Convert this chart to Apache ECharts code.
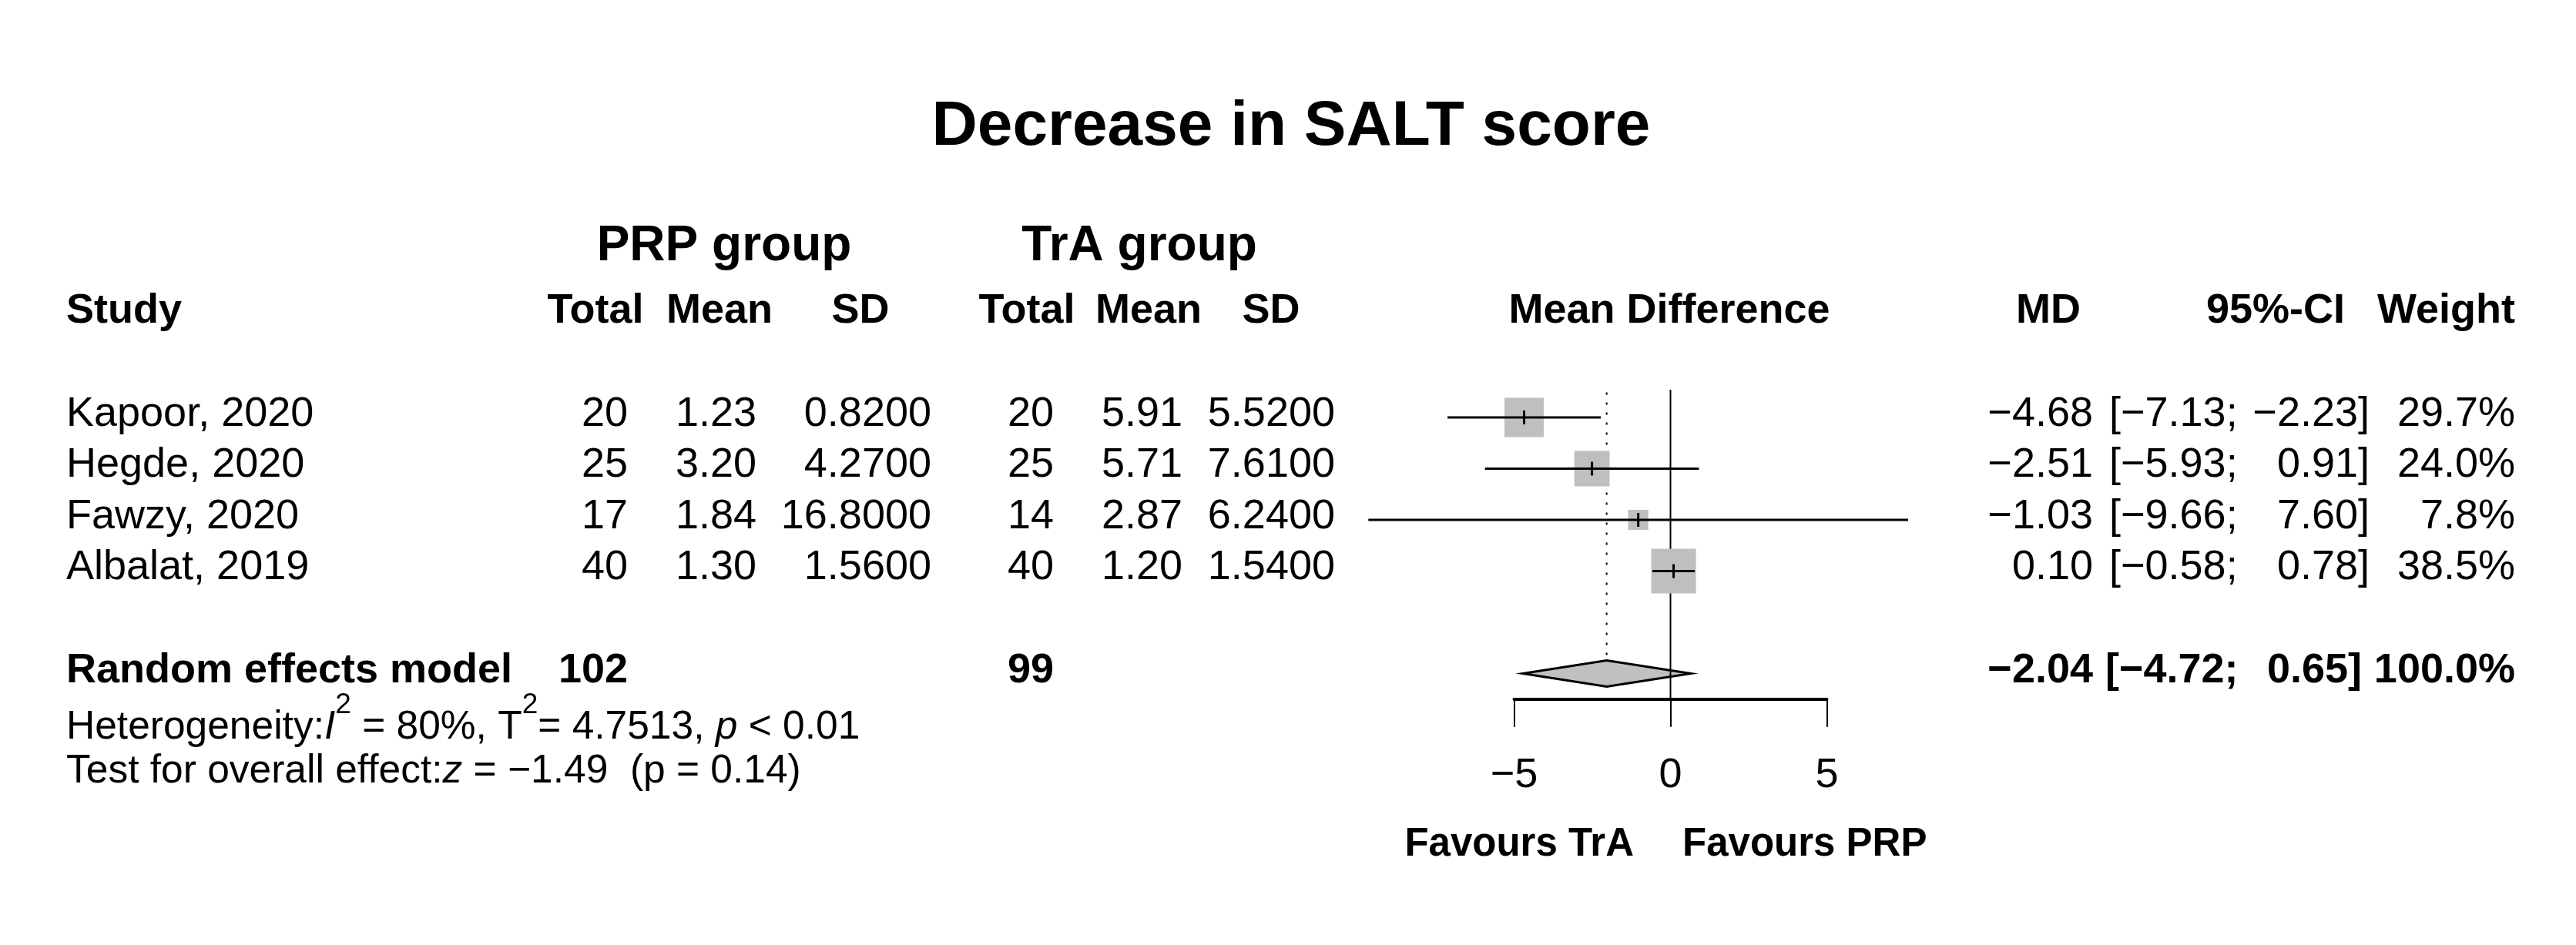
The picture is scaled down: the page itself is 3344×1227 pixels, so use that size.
<!DOCTYPE html>
<html><head><meta charset="utf-8">
<script src="https://cdn.jsdelivr.net/npm/echarts@6/dist/echarts.min.js"></script>
<style>html,body{margin:0;padding:0;background:#fff}#c{width:3344px;height:1227px}</style>
</head><body><div id="c"></div>
<script>
// ---- data ----
const studies = ['Kapoor, 2020', 'Hegde, 2020', 'Fawzy, 2020', 'Albalat, 2019'];
const prpTotal = [20, 25, 17, 40];
const prpMean = [1.23, 3.20, 1.84, 1.30];
const prpSD = [0.82, 4.27, 16.8, 1.56];
const traTotal = [20, 25, 14, 40];
const traMean = [5.91, 5.71, 2.87, 1.20];
const traSD = [5.52, 7.61, 6.24, 1.54];
const md = [-4.68, -2.51, -1.03, 0.10];
const ciLow = [-7.13, -5.93, -9.66, -0.58];
const ciHigh = [-2.23, 0.91, 7.60, 0.78];
const weight = [29.7, 24.0, 7.8, 38.5];
const pooledMD = -2.04, pooledLow = -4.72, pooledHigh = 0.65, pooledWeight = 100.0;
const pooledPrpTotal = 102, pooledTraTotal = 99;
const xTicks = [-5, 0, 5];

// ---- layout ----
const FONT = '"Liberation Sans", Arial, Helvetica, sans-serif';
const X0 = 2168.5, PX = 40.6;
const ROW0 = 475.5, RH = 66.5;
const rowY = r => ROW0 + RH * r;
const fmt = (v, d) => v.toFixed(d).replace('-', '\u2212');

const els = [];
function txt(x, y, text, align, bold, size, extra) {
  const st = Object.assign({
    text: String(text), fontSize: size || 54, fontWeight: bold ? 'bold' : 'normal',
    fontFamily: FONT, fill: '#000', align: align || 'left', verticalAlign: 'middle',
    textAlign: align || 'left', textVerticalAlign: 'middle'
  }, extra || {});
  els.push({ type: 'text', x: x, y: y, style: st, silent: true });
}

txt(1676, 165.5, 'Decrease in SALT score', 'center', true, 82);
txt(940, 320, 'PRP group', 'center', true, 64);
txt(1479, 320, 'TrA group', 'center', true, 64);
const HY = 404;
txt(86, HY, 'Study', 'left', true);
txt(773, HY, 'Total', 'center', true);
txt(934, HY, 'Mean', 'center', true);
txt(1117, HY, 'SD', 'center', true);
txt(1333, HY, 'Total', 'center', true);
txt(1491, HY, 'Mean', 'center', true);
txt(1650, HY, 'SD', 'center', true);
txt(2167, HY, 'Mean Difference', 'center', true);
txt(2659, HY, 'MD', 'center', true);
txt(2954, HY, '95%-CI', 'center', true);
txt(3265, HY, 'Weight', 'right', true);

studies.forEach((s, i) => {
  const y = rowY(i + 1) - 4;
  txt(86, y, s, 'left');
  txt(815, y, prpTotal[i], 'right');
  txt(982, y, fmt(prpMean[i], 2), 'right');
  txt(1209, y, fmt(prpSD[i], 4), 'right');
  txt(1368, y, traTotal[i], 'right');
  txt(1535, y, fmt(traMean[i], 2), 'right');
  txt(1733, y, fmt(traSD[i], 4), 'right');
  txt(2717, y, fmt(md[i], 2), 'right');
  txt(2738, y, '[' + fmt(ciLow[i], 2) + ';', 'left');
  txt(3076, y, fmt(ciHigh[i], 2) + ']', 'right');
  txt(3265, y, weight[i].toFixed(1) + '%', 'right');
});

const PY = rowY(6) - 3;
txt(86, PY, 'Random effects model', 'left', true);
txt(815, PY, pooledPrpTotal, 'right', true);
txt(1368, PY, pooledTraTotal, 'right', true);
txt(2717, PY, fmt(pooledMD, 2), 'right', true);
txt(2733, PY, '[' + fmt(pooledLow, 2) + ';', 'left', true);
txt(3066, PY, fmt(pooledHigh, 2) + ']', 'right', true);
txt(3265, PY, pooledWeight.toFixed(1) + '%', 'right', true);

const FS = 51.5;
const nS = { fontSize: FS, fontFamily: FONT, lineHeight: 96, fill: '#000', color: '#000' };
const iS = Object.assign({}, nS, { fontStyle: 'italic' });
const sS = { fontSize: 37, fontFamily: FONT, lineHeight: 40, verticalAlign: 'top', fill: '#000', color: '#000' };
txt(86, 945, '{n|Heterogeneity:}{i|I}{s|2}{n| = 80%, T}{s|2}{n|= 4.7513, }{i|p}{n| < 0.01}', 'left', false, FS,
  { rich: { n: nS, i: iS, s: sS } });
txt(86, 1002, '{n|Test for overall effect:}{i|z}{n| = \u22121.49  (p = 0.14)}', 'left', false, FS,
  { rich: { n: Object.assign({}, nS, { lineHeight: 60 }), i: Object.assign({}, iS, { lineHeight: 60 }) } });

txt(2121, 1097, 'Favours TrA', 'right', true, 51);
txt(2184, 1097, 'Favours PRP', 'left', true, 51);

const chart = echarts.init(document.getElementById('c'), null, { renderer: 'canvas' });
chart.setOption({
  backgroundColor: '#fff',
  animation: false,
  grid: [
    { left: X0 - 10 * PX, width: 20 * PX, top: ROW0, height: 6.5 * RH },
    { left: X0 - 5 * PX, width: 10 * PX, top: rowY(6.5) - 8, height: 8 }
  ],
  xAxis: [
    { gridIndex: 0, type: 'value', min: -10, max: 10, show: false },
    { gridIndex: 1, type: 'value', min: -5, max: 5, interval: 5,
      axisLine: { show: true, lineStyle: { color: '#000', width: 4 } },
      axisTick: { show: true, length: 36, lineStyle: { color: '#000', width: 2 } },
      axisLabel: { show: true, fontSize: 54, color: '#000', fontFamily: FONT, margin: 72,
        showMinLabel: true, showMaxLabel: true, formatter: v => fmt(v, 0) },
      splitLine: { show: false } }
  ],
  yAxis: [
    { gridIndex: 0, type: 'value', min: 0, max: 6.5, inverse: true, show: false },
    { gridIndex: 1, type: 'value', min: 0, max: 1, show: false }
  ],
  graphic: { elements: els },
  series: [
    { type: 'custom', xAxisIndex: 0, yAxisIndex: 0, clip: false, silent: true,
      data: [[pooledMD, 6, pooledLow, pooledHigh]],
      renderItem: (params, api) => {
        const c = api.coord([api.value(0), api.value(1)]);
        const l = api.coord([api.value(2), api.value(1)]);
        const h = api.coord([api.value(3), api.value(1)]);
        return { type: 'polygon', shape: { points: [[l[0], c[1]], [c[0], c[1] - 17], [h[0], c[1]], [c[0], c[1] + 17]] },
          style: { fill: '#c0c0c0', stroke: '#000', lineWidth: 3 } };
      } },
    { type: 'custom', xAxisIndex: 0, yAxisIndex: 0, clip: false, silent: true,
      data: [[0, 0.46, 6.5, 0], [pooledMD, 0.51, 6 - 17 / RH, 1]],
      renderItem: (params, api) => {
        const a = api.coord([api.value(0), api.value(1)]);
        const b = api.coord([api.value(0), api.value(2)]);
        const dotted = api.value(3) === 1;
        return { type: 'line', shape: { x1: a[0], y1: a[1], x2: b[0], y2: b[1] },
          style: { stroke: '#000', lineWidth: 2, lineDash: dotted ? [3, 10] : null } };
      } },
    { type: 'custom', xAxisIndex: 0, yAxisIndex: 0, clip: false, silent: true,
      data: studies.map((s, i) => [md[i], i + 1, ciLow[i], ciHigh[i], weight[i]]),
      renderItem: (params, api) => {
        const p = api.coord([api.value(0), api.value(1)]);
        const l = api.coord([api.value(2), api.value(1)]);
        const h = api.coord([api.value(3), api.value(1)]);
        const side = 9.35 * Math.sqrt(api.value(4));
        return { type: 'group', children: [
          { type: 'rect', shape: { x: p[0] - side / 2, y: p[1] - side / 2, width: side, height: side }, style: { fill: '#bfbfbf' } },
          { type: 'line', shape: { x1: l[0], y1: p[1], x2: h[0], y2: p[1] }, style: { stroke: '#000', lineWidth: 3 } },
          { type: 'line', shape: { x1: p[0], y1: p[1] - 9, x2: p[0], y2: p[1] + 9 }, style: { stroke: '#000', lineWidth: 3 } }
        ] };
      } }
  ]
});
</script></body></html>
